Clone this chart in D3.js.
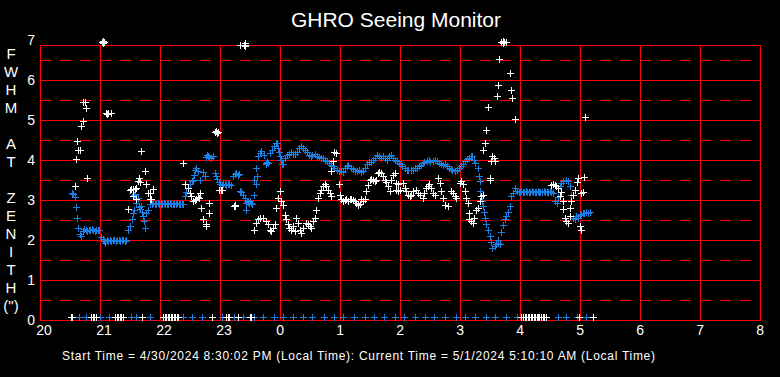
<!DOCTYPE html>
<html><head><meta charset="utf-8">
<script src="https://cdn.jsdelivr.net/npm/d3@7"></script>
<style>
html,body{margin:0;padding:0;background:#000;}
svg{display:block;}
text{font-family:"Liberation Sans",Arial,sans-serif;fill:#fff;}
</style></head><body>
<svg id="chart" width="780" height="377"></svg>
<script>
// time in minutes after 20:00 local, values = FWHM (arcsec)
const hourLabels = ["20","21","22","23","0","1","2","3","4","5","6","7","8"];
const yTickValues = [0,1,2,3,4,5,6,7];
const yTitleLetters = ["F","W","H","M","","A","T","","Z","E","N","I","T","H","(\")"];
const titleText = "GHRO Seeing Monitor";
const footerText = "Start Time = 4/30/2024 8:30:02 PM (Local Time): Current Time = 5/1/2024 5:10:10 AM (Local Time)";

const blueSeries = [
[32.7,3.17],[33.5,3.15],[35.3,3.07],[36.3,2.82],[37.3,2.54],[38.3,2.29],[40.7,2.15],[41.7,2.08],
[43,2.22],[44.5,2.26],[46,2.24],[47.5,2.22],[49,2.25],[50.5,2.23],[52,2.26],[53.5,2.24],[55,2.22],[56.5,2.25],[58,2.23],[59.5,2.24],
[61.7,2.06],[63,2.02],[64.5,1.97],[65.5,1.92],
[67,1.99],[68.5,1.97],[70,1.98],[71.5,1.97],[73,1.99],[74.5,1.98],[76,1.97],[77.5,1.98],[79,1.99],[80.5,1.97],[82,1.98],[83.5,1.98],[85,1.97],[86.5,1.98],
[88.3,2.23],[90.7,2.33],[92.3,2.52],[93.3,2.67],[94.3,3.12],[94.7,2.75],[95,3.15],[96.7,2.92],[98.3,3.04],[99.3,2.82],[100,2.77],[101.7,2.85],[102.5,2.7],[103.3,2.6],[104.3,2.46],[105.7,2.29],[106.7,2.67],[108.3,2.75],[110,2.9],
[112,2.9],[113.5,2.91],[115,2.89],[116.5,2.9],[118,2.91],[119.5,2.9],[121,2.89],[122.5,2.9],[124,2.91],[125.5,2.9],[127,2.89],[128.5,2.9],[130,2.91],[131.5,2.9],[133,2.89],[134.5,2.9],[136,2.9],[137.5,2.91],[139,2.9],[140.5,2.89],[142,2.9],[143.5,2.9],
[145,3.08],[146.7,3.18],[148.3,3.29],[150,3.38],[152.7,3.47],[153.3,3.5],[154.3,3.62],[155,3.75],[156.7,3.79],[158.3,3.71],[160,3.5],[163.3,3.68],[165,3.58],
[166,4.06],[167.3,4.11],[168.5,4.1],[169.7,4.07],[171,4.05],[173.3,4.08],
[175,3.67],[176,3.6],[177.3,3.52],[179,3.43],[180.7,3.38],
[182,3.37],[183.5,3.39],[185,3.38],[186.5,3.37],[188,3.39],[189.5,3.38],[191,3.37],
[193.5,3.6],[195,3.64],[196.5,3.66],[198,3.62],[199.5,3.65],
[200,3.21],[201.7,3.19],[203.3,3.125],[205,3.04],[206,2.75],[206.7,2.92],[207.3,2.96],[208.3,2.93],[209,2.92],[210.7,2.96],[211.7,2.92],[212.3,2.9],
[215,3.5],[216,3.375],[215,3.125],[216.7,3.79],[217.3,3.58],
[218,4.08],[220,4.17],[221.7,4.21],[224,4.12],
[226,3.92],[226.7,3.9],[227.5,3.93],[228,3.92],[230,4.17],[232,4.25],[234,4.33],[236,4.4],[237,4.42],[238,4.3],[239,4.2],[240,4.1],[241,4.0],[242,3.9],[243,3.88],[245,4.05],[247,4.12],[249,4.15],[251,4.18],[253,4.15],[255,4.13],[257,4.2],[259,4.3],[261,4.33],[263,4.3],[265,4.25],[267,4.2],[269,4.12],[271,4.08],[273,4.12],[275,4.15],[277,4.1],[279,4.07],[281,4.05],[283,4.03],[285,4.0],[287,3.97],[289,3.92],[291,3.87],[293,3.83],[295,3.79],[297,3.75],[299,3.72],[301,3.72],[303,3.7],[305,3.78],[307,3.83],[309,3.87],[311,3.8],[313,3.76],[315,3.72],[317,3.72],[319,3.73],[321,3.7],[323,3.72],[325,3.8],[327,3.88],[329,3.95],[331,3.94],[333,3.98],[335,4.05],[337,4.12],[339,4.1],[341,4.05],[343,4.08],[345,4.05],[347,4.0],[349,4.08],[351,4.12],[353,4.05],[355,4.0],[357,3.97],[359,3.92],[361,3.88],[363,3.83],[365,3.78],[367,3.75],[369,3.73],[371,3.73],[373,3.75],[375,3.78],[377,3.8],[379,3.83],[381,3.87],[383,3.92],[385,3.95],[387,3.97],[389,3.98],[391,3.95],[393,3.97],[395,4.0],[397,3.96],[399,3.92],[401,3.9],[403,3.87],[405,3.9],[407,3.85],[409,3.8],[411,3.77],[413,3.74],[415,3.72],[417,3.75],[419,3.8],[421,3.85],[423,3.9],[425,3.97],[427,4.02],[429,4.05],[431,4.1],[432,4.08],[434,4.0],[436,3.92],[438,3.8],[439,3.6],[440,3.46],[440.5,3.21],[441,3.1],[442,2.95],[443,2.83],[444,2.7],[445,2.55],[446.5,2.4],[448,2.25],[450,2.1],[451.5,1.95],[453,1.8],[455,1.85],[457,1.88],[458.5,1.92],[460,1.88],[459,1.99],[461.7,2.2],[463.3,2.37],[465,2.5],[466.7,2.6],[468,2.7],[470,2.83],[471.7,3.08],[473.3,3.17],[475,3.3],[477,3.2],[479,3.18],
[480,3.19],[481.5,3.2],[483,3.18],[484.5,3.19],[486,3.2],[487.5,3.19],[489,3.18],[490.5,3.19],[492,3.2],[493.5,3.19],[495,3.18],[496.5,3.19],[498,3.2],[499.5,3.19],[501,3.18],[502.5,3.19],[504,3.2],[505.5,3.19],[507,3.18],[508.5,3.19],[510,3.2],[511.5,3.19],
[513,3.17],[515,2.96],[517,2.92],[518,3.05],[520,3.33],[521.7,3.42],[523.3,3.46],[526.7,3.5],[528.3,3.46],[530,3.33],[531.7,3.125],[533.3,2.54],[535,2.5],[536.7,2.58],[538.3,2.54],[540,2.62],[541.7,2.63],[543.3,2.67],[545,2.66],[546.7,2.68],[548.3,2.67],[550,2.68]
];

const whiteSeries = [
[62.5,6.94],[64,6.94],[63,6.9],[63,6.97],[200.7,6.875],[204.5,6.875],[205.5,6.875],[205,6.84],[205,6.9],[461.5,6.94],[463,6.94],[464.5,6.94],[466,6.94],[463,6.9],[463,6.97],
[35.3,3.33],[36.7,4.02],[37.3,4.46],[38.3,4.25],[40,4.25],[41.7,4.85],[43.3,4.97],[43.3,5.43],[45,5.43],[46.7,5.29],[47.3,3.54],
[66.5,5.15],[67.3,5.13],[68,5.17],[71.7,5.15],
[88.3,2.77],[90,3.25],[91.7,3.26],[93.3,3.26],[95,3.27],[96.7,3.28],[93.3,3.08],[96.7,3.0],[98.3,3.46],[99,3.55],[100,3.43],[101.7,4.21],[105.3,3.71],[106.7,3.39],[108,3.17],[110,3.17],[110,3.0],[111.7,3.0],[113.3,3.27],
[143.3,3.92],[145,3.39],[148.3,3.29],[150,3.17],[151.5,3.1],[153.3,2.96],[155,2.98],[156.7,3.0],[158,3.05],[159.3,3.04],[160.7,3.17],[161.7,2.79],[163.3,2.52],[166,2.38],[166.7,2.33],[169.3,2.67],[170,2.92],
[175.5,4.69],[176.7,4.72],[177.5,4.67],[178,4.69],
[179.3,3.25],[181.7,3.25],[182.7,3.25],[194,2.85],[195,2.87],[196,2.84],
[214,2.25],[216,2.42],[218,2.5],[220,2.54],[223,2.54],[226.7,2.46],[228.3,2.38],[230,2.25],[231.7,2.21],[233.3,2.3],[235,2.38],[236.7,2.79],[238.3,3.04],[240,3.21],[241.7,2.96],[243.3,2.875],[245,2.62],[246.7,2.5],[248.3,2.38],[250,2.29],[251.7,2.25],[253.3,2.33],[255,2.21],[256.7,2.54],[258.3,2.42],[260,2.25],[261.7,2.17],[263.3,2.29],[266.7,2.42],[268.3,2.38],[270,2.33],[271.7,2.29],[273.3,2.46],[275,2.54],[276.7,2.75],[278.3,3.04],[280,3.17],[281.7,3.25],[283.3,3.33],[285,3.375],[286.7,3.33],[288.3,3.25],[290,3.17],[291.7,3.08],
[291.7,3.71],[293.3,3.96],[295,4.18],[296.7,4.17],[299.3,3.375],[300,3.125],
[301.7,3.0],[303.3,2.96],[305,2.98],[306.7,3.0],[308.3,2.96],[310,3.0],[311.7,3.02],[313.3,2.98],[315,2.95],[316.7,2.92],[318.3,2.875],[320,2.9],[321.7,3.0],[323.3,2.97],[325,3.0],
[326.7,3.21],[328.3,3.35],[330,3.5],[331.7,3.52],[333.3,3.5],[335,3.47],[336.7,3.5],[338.3,3.67],[340,3.69],[341.7,3.67],[343.3,3.6],[345,3.5],[346.7,3.45],[348.3,3.33],[350,3.21],[351.7,3.5],[353.3,3.62],[355,3.67],[356.7,3.42],[358.3,3.375],
[356.7,3.25],[358.3,3.21],[360,3.25],[363.3,3.42],[365,3.29],[366.7,3.21],[368.3,3.125],[370,3.08],[371.7,3.125],[373.3,3.21],[376.7,3.25],[378.3,3.17],[380,3.125],[383.3,3.04],[385,3.17],[386.7,3.29],[388.3,3.33],[390,3.375],[391.7,3.29],[393.3,3.17],[395,3.125],[398.3,3.54],[400,3.42],[401.7,3.21],[403.3,3.04],[405,2.875],[408.3,2.83],[411.7,3.21],[413.3,3.17],[415,3.08],[416.7,3.04],[420,3.42],[421.7,3.46],[423.3,3.375],[425,3.21],[426.7,3.04],[428.3,2.92],[429.3,2.67],[430,2.5],[431.7,2.46],[433.3,2.42],[435,2.54],[436.7,2.75],[438.3,2.79],[440,2.96],[441.7,3.08],[443.3,3.125],
[443.3,4.25],[445,4.42],[446.7,4.75],[448.3,5.32],[450,3.5],[450,3.55],[451.7,3.96],[452.7,4.1],[454,4.04],[455,3.96],[457.3,5.6],[458.3,5.875],[459.3,6.5],[470,6.17],[471,5.73],[472.7,5.54],[475,5.0],
[511.7,3.35],[513.3,3.38],[515,3.35],[516.7,3.33],[518.3,3.3],[520,3.08],[521.7,3.18],[523.3,2.96],[523.3,2.77],[525,2.55],[526.7,2.45],[528.3,2.42],[530,2.58],[530.7,2.79],[531.7,2.96],[533.3,3.125],[535,3.25],[537.3,3.44],[538,3.55],[541.7,3.17],[543.3,3.18],[540,2.35],[541.7,2.23],[545,3.57],[546,5.07]
];

const zeroValue = 0.07;
const blueZeroTimes = [39,46,60.7,69.6,91,96,110.7,143,152,162.5,182,194.6,203.6,214,223,234,243,253.6,264,273,284,294.6,303.6,314,325,334,344.6,355,364,375,385.7,394.6,405,416,425,435.7,446.4,455,466,477,518,527,537.5,546.4];
const whiteZeroTimes = [31.5,32.5,51.5,53,54.5,56,75.5,77,78.5,80,81.5,83,102.5,123.5,125,126.5,128,129.5,131,132.5,134,135.5,137,138.5,172,186.5,188,189.5,198.5,210,211.5,482,483.5,485,486.5,488,489.5,491,492.5,494,495.5,497,498.5,500,501.5,503,504.5,506,539.3,553.6];

const svg = d3.select("#chart");
svg.append("rect").attr("width",780).attr("height",377).attr("fill","#000");

const x = d3.scaleLinear().domain([0,720]).range([40,760]);
const y = d3.scaleLinear().domain([0,7]).range([320,40]);
const frameTop = 6.875;
const red = "#ff0000";

const grid = svg.append("g").attr("shape-rendering","crispEdges");
grid.selectAll("line.half").data(d3.range(0.5,7,1)).join("line")
  .attr("x1",x(0)).attr("x2",x(720))
  .attr("y1",d=>Math.round(y(d))+0.5).attr("y2",d=>Math.round(y(d))+0.5)
  .attr("stroke",red).attr("stroke-width",1).attr("stroke-dasharray","11,9");
grid.selectAll("line.int").data(d3.range(0,7,1)).join("line")
  .attr("x1",x(0)).attr("x2",x(720)+1)
  .attr("y1",d=>Math.round(y(d))+0.5).attr("y2",d=>Math.round(y(d))+0.5)
  .attr("stroke",red).attr("stroke-width",1);
grid.append("line").attr("x1",x(0)).attr("x2",x(720)+1)
  .attr("y1",Math.round(y(frameTop))+0.5).attr("y2",Math.round(y(frameTop))+0.5)
  .attr("stroke",red);
grid.selectAll("line.v").data(d3.range(0,721,60)).join("line")
  .attr("x1",d=>Math.round(x(d))+0.5).attr("x2",d=>Math.round(x(d))+0.5)
  .attr("y1",Math.round(y(frameTop))).attr("y2",y(0)+1)
  .attr("stroke",red);

const xAxis = d3.axisBottom(x).tickValues(d3.range(0,721,60))
  .tickFormat((d,i)=>hourLabels[i]).tickSize(0).tickPadding(5);
const gx = svg.append("g").attr("transform","translate(0,320)").call(xAxis);
gx.select(".domain").remove();
gx.selectAll("text").attr("fill","#fff").attr("text-anchor","start").attr("dx",-4.3)
  .style("font-size","14px").style("font-family","'Liberation Sans',Arial,sans-serif");

const yAxis = d3.axisLeft(y).tickValues(yTickValues).tickFormat(d3.format("d")).tickSize(0).tickPadding(5);
const gy = svg.append("g").attr("transform","translate(40,0)").call(yAxis);
gy.select(".domain").remove();
gy.selectAll("text").attr("fill","#fff")
  .style("font-size","14px").style("font-family","'Liberation Sans',Arial,sans-serif");

svg.append("text").attr("x",396).attr("y",27).attr("text-anchor","middle")
  .style("font-size","21px").text(titleText);

svg.append("g").selectAll("text").data(yTitleLetters).join("text")
  .attr("x",11).attr("y",(d,i)=>53+18*i+5.5).attr("text-anchor","middle")
  .style("font-size","15px").text(d=>d);

svg.append("text").attr("x",62).attr("y",359.5)
  .attr("textLength",593).attr("lengthAdjust","spacing")
  .style("font-size","12px").text(footerText);

function crossPath(px,py){
  const c=Math.floor(px), r=Math.floor(py);
  return `M${c-3},${r+0.5}H${c+4}M${c+0.5},${r-3}V${r+4}`;
}
function drawSeries(data,color){
  svg.append("g").attr("shape-rendering","crispEdges")
    .selectAll("path").data(data).join("path")
    .attr("d",d=>crossPath(x(d[0]),y(d[1])))
    .attr("stroke",color).attr("stroke-width",1).attr("fill","none");
}
const blueColor = "#1a80e6";
drawSeries(blueSeries, blueColor);
drawSeries(blueZeroTimes.map(t=>[t,zeroValue]), blueColor);
drawSeries(whiteSeries, "#ffffff");
drawSeries(whiteZeroTimes.map(t=>[t,zeroValue]), "#ffffff");
</script>
</body></html>
